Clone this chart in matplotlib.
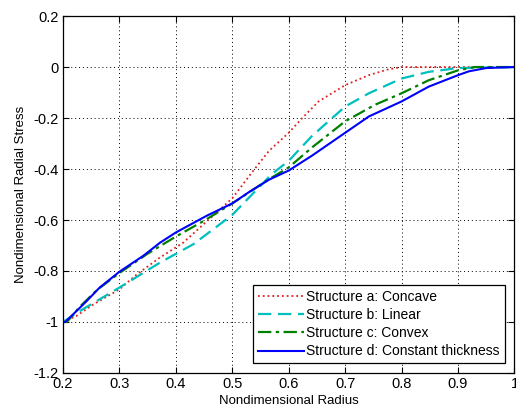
import matplotlib
matplotlib.use("Agg")
import matplotlib.pyplot as plt
import numpy as np

plt.rcParams['font.family'] = ['Liberation Sans', 'DejaVu Sans']

# values
x_a = [0.2, 0.224, 0.254, 0.3, 0.33, 0.37, 0.413, 0.45, 0.5, 0.535, 0.565, 0.6, 0.624,
       0.653, 0.7, 0.742, 0.775, 0.8, 0.85, 1.0]
y_a = [-1.0, -0.976, -0.931, -0.872, -0.815, -0.75, -0.689, -0.615, -0.515, -0.413,
       -0.329, -0.258, -0.2, -0.135, -0.071, -0.032, -0.01, 0.0, 0.0, 0.0]

x_b = [0.2, 0.23, 0.3, 0.372, 0.431, 0.5, 0.57, 0.6, 0.641, 0.7, 0.742, 0.8, 0.848, 0.9, 1.0]
y_b = [-1.0, -0.957, -0.865, -0.767, -0.695, -0.58, -0.42, -0.368, -0.271, -0.155, -0.103,
       -0.045, -0.019, -0.004, 0.0]

x_c = [0.2, 0.207, 0.23, 0.26, 0.3, 0.35, 0.4, 0.45, 0.5, 0.565, 0.6, 0.641, 0.7, 0.753,
       0.8, 0.848, 0.9, 0.93, 1.0]
y_c = [-1.0, -1.0, -0.94, -0.875, -0.808, -0.732, -0.665, -0.603, -0.535, -0.44, -0.394,
       -0.316, -0.213, -0.148, -0.103, -0.052, -0.013, 0.0, 0.0]

x_d = [0.2, 0.204, 0.218, 0.242, 0.265, 0.3, 0.342, 0.372, 0.4, 0.455, 0.5, 0.53, 0.565,
       0.6, 0.641, 0.7, 0.742, 0.8, 0.848, 0.9, 0.919, 0.95, 1.0]
y_d = [-1.0, -1.0, -0.970, -0.918, -0.865, -0.803, -0.741, -0.689, -0.649, -0.583, -0.535,
       -0.49, -0.442, -0.406, -0.348, -0.258, -0.194, -0.135, -0.077, -0.032, -0.017,
       -0.004, 0.0]

labels = ['Structure a: Concave', 'Structure b: Linear', 'Structure c: Convex',
          'Structure d: Constant thickness']

fig = plt.figure(figsize=(5.16, 4.11), dpi=100)
ax = fig.add_axes([0.122, 0.0925, 0.875, 0.8685])

ax.plot(x_a, y_a, color='#e02020', linestyle=':', linewidth=1.3, label=labels[0])
ax.plot(x_b, y_b, color='#00bfbf', linestyle=(0, (6, 3)), linewidth=1.6, label=labels[1])
ax.plot(x_c, y_c, color='#008000', linestyle=(0, (6, 2, 1.5, 2)), linewidth=1.6, label=labels[2])
ax.plot(x_d, y_d, color='#0000ff', linestyle='-', linewidth=1.5, label=labels[3])

ax.set_xlim(0.2, 1.0)
ax.set_ylim(-1.2, 0.2)
ax.set_xticks(np.arange(0.2, 1.01, 0.1))
ax.set_xticklabels(['0.2', '0.3', '0.4', '0.5', '0.6', '0.7', '0.8', '0.9', '1'])
ax.set_yticks(np.arange(-1.2, 0.21, 0.2))
ax.set_yticklabels(['-1.2', '-1', '-0.8', '-0.6', '-0.4', '-0.2', '0', '0.2'])
ax.tick_params(direction='in', top=True, right=True, labelsize=10.5, length=4, width=0.8,
               pad=3)
ax.grid(True, color='black', linestyle=(0, (1, 3)), linewidth=0.7)
for s in ax.spines.values():
    s.set_linewidth(0.9)

ax.set_xlabel('Nondimensional Radius', fontsize=9.5, labelpad=2.5)
ax.set_ylabel('Nondimensional Radial Stress', fontsize=9.5, labelpad=5)

leg = ax.legend(loc='lower right', fontsize=10, fancybox=False, framealpha=1,
                edgecolor='black', handlelength=3.3, handletextpad=0.2,
                borderpad=0.35, labelspacing=0.3, borderaxespad=0.7)
leg.get_frame().set_linewidth(0.9)

fig.savefig('out.png', dpi=100)
